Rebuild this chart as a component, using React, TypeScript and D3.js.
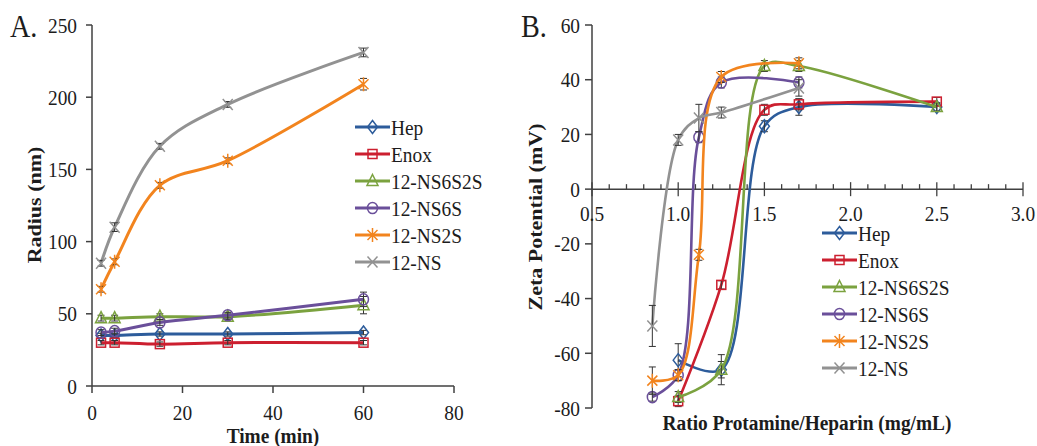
import React, { useEffect } from 'react';
import * as d3 from 'd3';

// ---- panel A: radius vs time ----
const timeMin = [2, 5, 15, 30, 60];
const radHep = [35, 35, 36, 36, 37];
const radEnox = [30, 30, 29, 30, 30];
const radNS6S2S = [47, 47, 48, 48, 56];
const radNS6S = [37, 38, 44, 49, 60];
const radNS2S = [67, 86, 139, 156, 209];
const radNS = [85, 110, 166, 195, 231];
const errRadHep = [1.5, 1.5, 1.5, 1.5, 1.5];
const errRadEnox = [1.5, 1.5, 1.5, 1.5, 1.5];
const errRadNS6S2S = [2, 2, 2, 2, 6];
const errRadNS6S = [2, 2, 2, 2, 5];
const errRadNS2S = [2, 2, 2, 2, 4];
const errRadNS = [2, 3, 2, 2, 3];

// ---- panel B: zeta potential vs ratio ----
const ratioHep = [1.0, 1.25, 1.5, 1.7, 2.5];
const zetaHep = [-62.5, -66, 23, 30, 30];
const errZetaHep = [6, 3, 2, 3, 1.5];
const ratioEnox = [1.0, 1.25, 1.5, 1.7, 2.5];
const zetaEnox = [-77.5, -35, 29, 31, 32];
const errZetaEnox = [2, 1.5, 2, 2, 1.5];
const ratioNS6S2S = [1.0, 1.25, 1.5, 1.7, 2.5];
const zetaNS6S2S = [-76, -66, 45, 45, 30];
const errZetaNS6S2S = [2, 5.5, 2, 2, 1.5];
const ratioNS6S = [0.85, 1.0, 1.12, 1.25, 1.7];
const zetaNS6S = [-76, -68, 19, 39, 39];
const errZetaNS6S = [1.5, 2, 2, 2, 2];
const ratioNS2S = [0.85, 1.0, 1.12, 1.25, 1.7];
const zetaNS2S = [-70, -68, -24, 41, 46];
const errZetaNS2S = [5, 2, 2, 2, 2];
const ratioNS = [0.85, 1.0, 1.12, 1.25, 1.7];
const zetaNS = [-50, 18, 26, 28, 37];
const errZetaNS = [7.5, 2, 5, 2, 3];

const seriesNames = ['Hep', 'Enox', '12-NS6S2S', '12-NS6S', '12-NS2S', '12-NS'];
const seriesColors = ['#2D5C9B', '#CC1F2F', '#7BA23F', '#6A4F9A', '#F2841E', '#929292'];
const seriesMarkers = ['diamond', 'square', 'triangle', 'circle', 'star', 'cross'];

const radiusYs = [radHep, radEnox, radNS6S2S, radNS6S, radNS2S, radNS];
const radiusErr = [errRadHep, errRadEnox, errRadNS6S2S, errRadNS6S, errRadNS2S, errRadNS];
const ratioXs = [ratioHep, ratioEnox, ratioNS6S2S, ratioNS6S, ratioNS2S, ratioNS];
const zetaYs = [zetaHep, zetaEnox, zetaNS6S2S, zetaNS6S, zetaNS2S, zetaNS];
const zetaErr = [errZetaHep, errZetaEnox, errZetaNS6S2S, errZetaNS6S, errZetaNS2S, errZetaNS];

const FONT = "'Liberation Serif', 'Times New Roman', serif";
const SX = 0.88;
const INK = '#1c1c1c';
const AXIS = '#404040';

function Txt({ x, y, anchor = 'start', size = 22, bold = false, rotate = false, children }: any) {
  const tf = rotate
    ? `translate(${x},${y}) rotate(-90) scale(1,${SX})`
    : `translate(${x},${y}) scale(${SX},1)`;
  return (
    <text transform={tf} textAnchor={anchor} fontSize={size} fontWeight={bold ? 'bold' : 'normal'}
      fontFamily={FONT} fill={INK}>{children}</text>
  );
}

function Marker({ type, x, y, color }: any) {
  const common = { stroke: color, strokeWidth: 1.5, fill: 'none' };
  switch (type) {
    case 'diamond':
      return <path d={`M${x},${y - 6.5}L${x + 5},${y}L${x},${y + 6.5}L${x - 5},${y}Z`} {...common} />;
    case 'square':
      return <rect x={x - 4.5} y={y - 4.5} width={9} height={9} {...common} />;
    case 'triangle':
      return <path d={`M${x},${y - 6.5}L${x + 5.5},${y + 4.5}L${x - 5.5},${y + 4.5}Z`} {...common} />;
    case 'circle':
      return <ellipse cx={x} cy={y} rx={5} ry={5.6} {...common} />;
    case 'star':
      return <path d={`M${x - 5},${y - 5}L${x + 5},${y + 5}M${x - 5},${y + 5}L${x + 5},${y - 5}M${x},${y - 7}L${x},${y + 7}`} {...common} />;
    default:
      return <path d={`M${x - 5},${y - 5.5}L${x + 5},${y + 5.5}M${x - 5},${y + 5.5}L${x + 5},${y - 5.5}`} {...common} />;
  }
}

function Series({ xs, ys, errs, i, x, y, width }: any) {
  const pts: [number, number][] = xs.map((v: number, k: number) => [x(v), y(ys[k])]);
  const line = d3.line().curve(d3.curveCatmullRom.alpha(0.5));
  const color = seriesColors[i];
  return (
    <g>
      <path d={line(pts) || ''} fill="none" stroke={color} strokeWidth={width} />
      {xs.map((v: number, k: number) => {
        const px = x(v);
        const y1 = y(ys[k] + errs[k]);
        const y2 = y(ys[k] - errs[k]);
        return (
          <g key={k} stroke="#333" strokeWidth={1}>
            <line x1={px} x2={px} y1={y1} y2={y2} />
            <line x1={px - 3.5} x2={px + 3.5} y1={y1} y2={y1} />
            <line x1={px - 3.5} x2={px + 3.5} y1={y2} y2={y2} />
          </g>
        );
      })}
      {pts.map((p, k) => <Marker key={k} type={seriesMarkers[i]} x={p[0]} y={p[1]} color={color} />)}
    </g>
  );
}

function Legend({ x0, y0, width }: any) {
  return (
    <g>
      {seriesNames.map((n, i) => {
        const yy = y0 + i * 27;
        return (
          <g key={n}>
            <line x1={x0} x2={x0 + 35} y1={yy} y2={yy} stroke={seriesColors[i]} strokeWidth={width} />
            <Marker type={seriesMarkers[i]} x={x0 + 17.5} y={yy} color={seriesColors[i]} />
            <Txt x={x0 + 36} y={yy + 7.5}>{n}</Txt>
          </g>
        );
      })}
    </g>
  );
}

export default function App() {
  useEffect(() => {
    document.body.style.margin = '0';
    document.body.style.overflow = 'hidden';
  }, []);

  const xA = d3.scaleLinear().domain([0, 80]).range([92, 454]);
  const yA = d3.scaleLinear().domain([0, 250]).range([386, 25]);
  const xB = d3.scaleLinear().domain([0.5, 3.0]).range([592, 1023]);
  const yB = d3.scaleLinear().domain([-80, 60]).range([408, 25]);
  const fmtB = d3.format('.1f');

  return (
    <svg width={1037} height={446} style={{ display: 'block', background: '#fff' }}>
      {/* Panel A */}
      <Txt x={10} y={37} size={32}>A.</Txt>
      <g>
        {radiusYs.map((ys, i) => (
          <Series key={i} xs={timeMin} ys={ys} errs={radiusErr[i]} i={i} x={xA} y={yA} width={3} />
        ))}
      </g>
      <line x1={xA(0)} x2={xA(0)} y1={yA(250)} y2={yA(0)} stroke={AXIS} strokeWidth={1.5} />
      <line x1={xA(0)} x2={xA(80)} y1={yA(0)} y2={yA(0)} stroke={AXIS} strokeWidth={1.5} />
      {yA.ticks(5).map(t => (
        <g key={t}>
          <line x1={xA(0) - 6} x2={xA(0)} y1={yA(t)} y2={yA(t)} stroke={AXIS} strokeWidth={1.5} />
          <Txt x={77} y={yA(t) + 7.5} anchor="end">{String(t)}</Txt>
        </g>
      ))}
      {xA.ticks(4).map(t => (
        <g key={t}>
          <line x1={xA(t)} x2={xA(t)} y1={yA(0)} y2={yA(0) + 7} stroke={AXIS} strokeWidth={1.5} />
          <Txt x={xA(t)} y={420} anchor="middle">{String(t)}</Txt>
        </g>
      ))}
      <Txt x={273} y={443} anchor="middle" bold>Time (min)</Txt>
      <Txt x={41} y={205} anchor="middle" bold rotate>Radius (nm)</Txt>
      <Legend x0={355} y0={127} width={3} />

      {/* Panel B */}
      <Txt x={521} y={37} size={32}>B.</Txt>
      <line x1={xB(0.5)} x2={xB(0.5)} y1={yB(60)} y2={yB(-80)} stroke={AXIS} strokeWidth={1.5} />
      <line x1={xB(0.5)} x2={xB(3.0)} y1={yB(0)} y2={yB(0)} stroke={AXIS} strokeWidth={1.5} />
      {yB.ticks(7).map(t => (
        <g key={t}>
          <line x1={xB(0.5) - 7} x2={xB(0.5)} y1={yB(t)} y2={yB(t)} stroke={AXIS} strokeWidth={1.5} />
          <Txt x={580} y={yB(t) + 7.5} anchor="end">{String(t)}</Txt>
        </g>
      ))}
      {d3.range(5, 31).map(k => k / 10).map(t => {
        const major = Math.round(t * 10) % 5 === 0;
        return (
          <line key={t} x1={xB(t)} x2={xB(t)} y1={yB(0) - (major ? 7 : 5)} y2={yB(0) + (major ? 7 : 0)}
            stroke={AXIS} strokeWidth={1.3} />
        );
      })}
      {xB.ticks(5).map(t => (
        <Txt key={t} x={xB(t)} y={221} anchor="middle">{fmtB(t)}</Txt>
      ))}
      <g>
        {zetaYs.map((ys, i) => (
          <Series key={i} xs={ratioXs[i]} ys={ys} errs={zetaErr[i]} i={i} x={xB} y={yB} width={2.6} />
        ))}
      </g>
      <Txt x={807} y={430} anchor="middle" bold>Ratio Protamine/Heparin (mg/mL)</Txt>
      <Txt x={542} y={217} anchor="middle" bold rotate>Zeta Potential (mV)</Txt>
      <Legend x0={822} y0={233} width={3} />
    </svg>
  );
}
